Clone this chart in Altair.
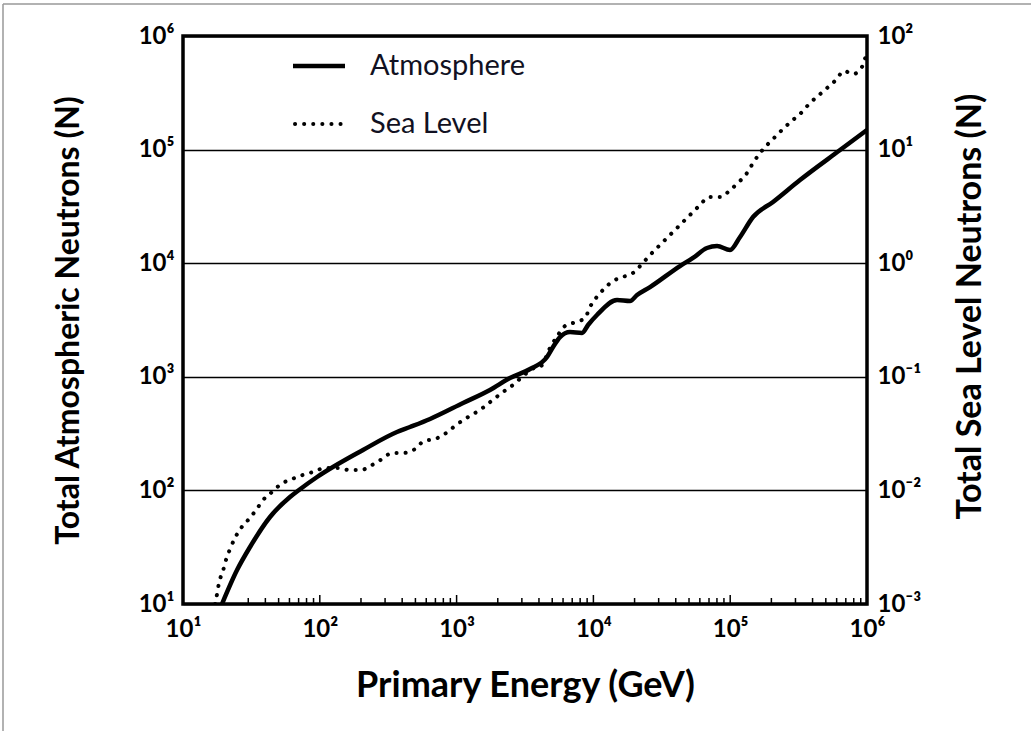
import altair as alt
import pandas as pd
import numpy as np

# ---- data (log10 values) ----
atm_log_energy = [1.285, 1.395, 1.490, 1.636, 1.782, 1.848, 1.980, 2.316, 2.564, 2.659, 2.806,
                  3.047, 3.244, 3.390, 3.537, 3.661, 3.705, 3.756, 3.829, 3.917, 3.961,
                  4.026, 4.173, 4.268, 4.319, 4.414, 4.633, 4.728, 4.830, 4.904, 4.999, 5.072,
                  5.167, 5.313, 5.510, 5.803, 6.000]
atm_log_n = [1.000, 1.299, 1.502, 1.766, 1.942, 2.004, 2.118, 2.356, 2.514, 2.558, 2.629,
             2.769, 2.884, 2.989, 3.069, 3.174, 3.262, 3.350, 3.394, 3.386, 3.456,
             3.544, 3.676, 3.667, 3.720, 3.790, 3.975, 4.046, 4.134, 4.151, 4.116, 4.231,
             4.407, 4.539, 4.732, 4.996, 5.173]

sea_log_energy = [1.234, 1.249, 1.263, 1.292, 1.314, 1.344, 1.380, 1.424, 1.482, 1.534,
                  1.585, 1.651, 1.716, 1.797, 1.877, 1.950, 2.038, 2.133, 2.213, 2.301,
                  2.382, 2.455, 2.528, 2.608, 2.696, 2.762, 2.842, 2.923, 2.988, 3.061,
                  3.135, 3.200, 3.273, 3.339, 3.412, 3.478, 3.551, 3.617, 3.683, 3.741,
                  3.792, 3.873, 3.939, 3.975, 4.019, 4.077, 4.143, 4.216, 4.289, 4.355,
                  4.414, 4.472, 4.538, 4.596, 4.655, 4.721, 4.779, 4.845, 4.933, 4.999,
                  5.064, 5.123, 5.167, 5.218, 5.276, 5.335, 5.393, 5.459, 5.525, 5.583,
                  5.642, 5.708, 5.773, 5.832, 5.898, 5.963, 5.993]
sea_log_n = [-3.000, -2.912, -2.815, -2.710, -2.613, -2.516, -2.419, -2.331, -2.252, -2.173,
             -2.085, -2.014, -1.944, -1.900, -1.864, -1.838, -1.803, -1.803, -1.820, -1.820,
             -1.776, -1.724, -1.671, -1.671, -1.636, -1.565, -1.548, -1.495, -1.433, -1.371,
             -1.319, -1.266, -1.195, -1.134, -1.072, -1.002, -0.931, -0.905, -0.746, -0.632,
             -0.553, -0.518, -0.482, -0.386, -0.306, -0.227, -0.157, -0.121, -0.086, -0.007,
             0.072, 0.143, 0.222, 0.292, 0.363, 0.442, 0.512, 0.583, 0.583, 0.644,
             0.715, 0.794, 0.882, 0.970, 1.049, 1.120, 1.190, 1.261, 1.331, 1.410,
             1.472, 1.542, 1.613, 1.692, 1.665, 1.727, 1.833]

x_major = [10, 100, 1000, 10000, 100000, 1000000]
left_ticks = [10, 100, 1000, 10000, 100000, 1000000]
right_ticks = [0.001, 0.01, 0.1, 1, 10, 100]
minor_ticks = [k * 10 ** d for d in range(1, 6) for k in range(2, 10)]
inner_major_ticks = [100, 1000, 10000, 100000]
legend_labels = ["Atmosphere", "Sea Level"]

W, H = 684, 568
FONT = "Lato"

atm = pd.DataFrame({"energy": 10 ** np.array(atm_log_energy), "n": 10 ** np.array(atm_log_n)})
sea = pd.DataFrame({"energy": 10 ** np.array(sea_log_energy), "n": 10 ** np.array(sea_log_n)})

sup_expr = ("'10' + (round(log(datum.value)/LN10) < 0 ? '\u207b' : '') + "
            "['\u2070','\u00b9','\u00b2','\u00b3','\u2074','\u2075','\u2076','\u2077','\u2078','\u2079']"
            "[abs(round(log(datum.value)/LN10))]")

x_scale = alt.Scale(type="log", domain=[10, 1000000], nice=False)
x_axis = alt.Axis(values=x_major, labelExpr=sup_expr, grid=False, ticks=False, domain=False,
                  labelFlush=False, labelOverlap=False,
                  labelFont=FONT, labelFontWeight="bold", labelFontSize=24, labelColor="black",
                  labelPadding=13, title="Primary Energy (GeV)", titleFont=FONT,
                  titleFontWeight="bold", titleFontSize=36, titleColor="black",
                  titleY=81, titleBaseline="middle")


def xenc():
    return alt.X("energy:Q", scale=x_scale, axis=x_axis)


atm_line = alt.Chart(atm).mark_line(color="black", strokeWidth=4.5, interpolate="monotone",
                                    clip=True).encode(
    x=xenc(),
    y=alt.Y("n:Q", scale=alt.Scale(type="log", domain=[10, 1000000], nice=False),
            axis=alt.Axis(values=left_ticks, labelExpr=sup_expr, grid=True, gridColor="black",
                          gridWidth=1.3, gridOpacity=1, domain=False, ticks=False,
                          labelFlush=False, labelOverlap=False,
                          labelFont=FONT, labelFontWeight="bold", labelFontSize=24,
                          labelColor="black", labelPadding=9, labelBaseline="middle",
                          title="Total Atmospheric Neutrons (N)", titleFont=FONT,
                          titleFontWeight="bold", titleFontSize=32, titleColor="black",
                          titleX=-115, titleY=H / 2, titleAngle=270, titleAlign="center",
                          titleBaseline="middle")),
)

sea_line = alt.Chart(sea).mark_line(color="black", strokeWidth=4, strokeDash=[0.1, 9],
                                    strokeCap="round", interpolate="monotone",
                                    clip=True).encode(
    x=xenc(),
    y=alt.Y("n:Q", scale=alt.Scale(type="log", domain=[0.001, 100], nice=False),
            axis=alt.Axis(orient="right", values=right_ticks, labelExpr=sup_expr, grid=False,
                          domain=False, ticks=False, labelFlush=False, labelOverlap=False,
                          labelFont=FONT, labelFontWeight="bold",
                          labelFontSize=24, labelColor="black", labelPadding=10,
                          labelBaseline="middle",
                          title="Total Sea Level Neutrons (N)", titleFont=FONT,
                          titleFontWeight="bold", titleFontSize=34, titleColor="black",
                          titleX=103, titleY=270, titleAngle=270, titleAlign="center",
                          titleBaseline="middle")),
)

minor_df = pd.DataFrame({"energy": minor_ticks})
major_df = pd.DataFrame({"energy": inner_major_ticks})
minor_rules = alt.Chart(minor_df).mark_rule(color="black", strokeWidth=1.5).encode(
    x=xenc(), y=alt.value(H), y2=alt.value(H - 6))
major_rules = alt.Chart(major_df).mark_rule(color="black", strokeWidth=1.5).encode(
    x=xenc(), y=alt.value(H), y2=alt.value(H - 9))

# legend
leg1 = pd.DataFrame({"label": [legend_labels[0]]})
leg2 = pd.DataFrame({"label": [legend_labels[1]]})
leg_line1 = alt.Chart(leg1).mark_rule(color="black", strokeWidth=4.5).encode(
    x=alt.value(110), x2=alt.value(162), y=alt.value(30))
leg_line2 = alt.Chart(leg2).mark_rule(color="black", strokeWidth=4, strokeDash=[0.1, 9],
                                      strokeCap="round").encode(
    x=alt.value(112), x2=alt.value(163), y=alt.value(88))
leg_text1 = alt.Chart(leg1).mark_text(align="left", baseline="middle", font=FONT, fontSize=29,
                                      color="#111122").encode(
    x=alt.value(187), y=alt.value(30), text="label:N")
leg_text2 = alt.Chart(leg2).mark_text(align="left", baseline="middle", font=FONT, fontSize=29,
                                      color="#111122").encode(
    x=alt.value(187), y=alt.value(88), text="label:N")

# outer frame of the picture
frame_df = pd.DataFrame({"k": [1]})
frame_left = alt.Chart(frame_df).mark_rule(color="#999999", strokeWidth=1.5).encode(
    x=alt.value(-180), y=alt.value(-32), y2=alt.value(H + 127))
frame_top = alt.Chart(frame_df).mark_rule(color="#999999", strokeWidth=1.5).encode(
    x=alt.value(-180), x2=alt.value(W + 164), y=alt.value(-32))

chart = alt.layer(
    atm_line, sea_line, minor_rules, major_rules,
    leg_line1, leg_line2, leg_text1, leg_text2, frame_left, frame_top
).resolve_scale(y="independent").properties(
    width=W, height=H,
    autosize=alt.AutoSizeParams(type="none"),
    padding={"left": 183, "top": 36, "right": 1031 - 183 - W, "bottom": 731 - 36 - H},
    background="white",
).configure_view(stroke="black", strokeWidth=3.5)

chart.save("out.html", embed_options={"renderer": "svg", "actions": False})
